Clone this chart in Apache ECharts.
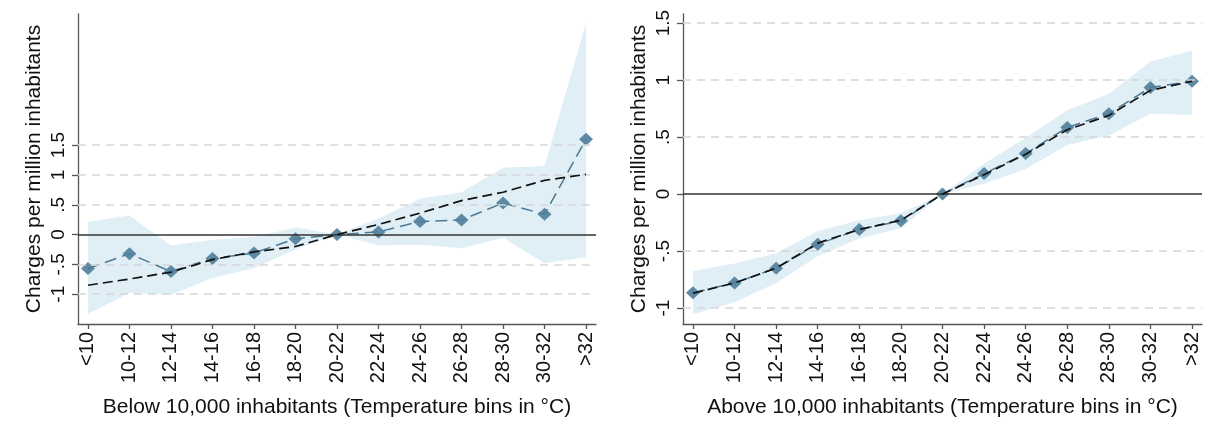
<!DOCTYPE html>
<html>
<head>
<meta charset="utf-8">
<script src="https://cdn.jsdelivr.net/npm/echarts@6/dist/echarts.min.js"></script>
<style>
  html, body { margin: 0; padding: 0; background: #fff; }
  #chart { width: 1208px; height: 432px; }
</style>
</head>
<body>
<div id="chart"></div>
<script>
// temperature bins (x axis)
const categories = ['<10', '10-12', '12-14', '14-16', '16-18', '18-20', '20-22', '22-24', '24-26', '26-28', '28-30', '30-32', '>32']
const yTicks = [-1, -0.5, 0, 0.5, 1, 1.5]

// below 10,000 inhabitants
const smallEst = [-0.57, -0.32, -0.62, -0.40, -0.31, -0.07, 0, 0.045, 0.22, 0.245, 0.53, 0.34, 1.60]
const smallFit = [-0.85, -0.745, -0.63, -0.42, -0.29, -0.20, 0, 0.17, 0.36, 0.57, 0.71, 0.91, 1.01]
const smallLo = [-1.33, -0.98, -1.01, -0.73, -0.56, -0.25, 0, -0.18, -0.17, -0.23, -0.055, -0.48, -0.38]
const smallHi = [0.21, 0.32, -0.185, -0.085, -0.04, 0.12, 0, 0.27, 0.60, 0.71, 1.12, 1.15, 3.55]

// above 10,000 inhabitants
const largeEst = [-0.865, -0.78, -0.65, -0.44, -0.31, -0.235, 0, 0.18, 0.355, 0.585, 0.705, 0.935, 0.99]
const largeFit = [-0.87, -0.78, -0.65, -0.43, -0.31, -0.23, 0, 0.17, 0.35, 0.565, 0.69, 0.91, 0.99]
const largeLo = [-1.055, -0.95, -0.78, -0.545, -0.39, -0.30, 0, 0.09, 0.22, 0.43, 0.515, 0.705, 0.695]
const largeHi = [-0.675, -0.61, -0.52, -0.325, -0.23, -0.165, 0, 0.265, 0.495, 0.735, 0.88, 1.16, 1.26]

const FONT = 'Liberation Sans'
const xIdx = categories.map((c, i) => i)
const pairs = arr => arr.map((v, i) => [i, v])
const fmtY = v => String(v).replace(/^(-?)0\./, '$1.')

function xAxisFor (gridIndex, name) {
  return {
    type: 'value', gridIndex, min: -0.24, max: 12.24,
    name, nameLocation: 'middle', nameGap: 73,
    nameTextStyle: { fontFamily: FONT, fontSize: 21, color: '#111' },
    axisLine: { show: true, onZero: false, lineStyle: { color: '#555', width: 1.3 } },
    axisTick: { show: true, length: 5, customValues: xIdx, lineStyle: { color: '#555', width: 1.3 } },
    axisLabel: {
      customValues: xIdx, rotate: 90, margin: 8,
      fontFamily: FONT, fontSize: 20, color: '#111',
      formatter: v => categories[v]
    },
    splitLine: { show: false }
  }
}

function yAxisFor (gridIndex, min, max) {
  return {
    type: 'value', gridIndex, min, max,
    name: 'Charges per million inhabitants', nameLocation: 'middle', nameGap: 33,
    nameTextStyle: { fontFamily: FONT, fontSize: 21, color: '#111' },
    axisLine: { show: true, onZero: false, lineStyle: { color: '#555', width: 1.3 } },
    axisTick: { show: true, length: 6, customValues: yTicks, lineStyle: { color: '#555', width: 1.3 } },
    axisLabel: {
      customValues: yTicks, rotate: 90, margin: 10,
      fontFamily: FONT, fontSize: 19, color: '#111',
      formatter: fmtY
    },
    splitLine: { show: false }
  }
}

// confidence band as one polygon built from lo/hi through the axis scales
function bandSeries (k, lo, hi) {
  return {
    type: 'custom', xAxisIndex: k, yAxisIndex: k, z: 2, silent: true,
    data: lo.map((l, i) => [i, l, hi[i]]),
    encode: { x: 0, y: [1, 2] },
    renderItem (params, api) {
      if (params.dataIndex !== 0) return
      const pts = []
      hi.forEach((h, i) => pts.push(api.coord([i, h])))
      for (let i = lo.length - 1; i >= 0; i--) pts.push(api.coord([i, lo[i]]))
      return { type: 'polygon', shape: { points: pts }, style: { fill: '#e0eef6' } }
    }
  }
}

function panelSeries (k, est, fit, lo, hi) {
  const grid = yTicks.filter(v => v !== 0).map(v => ({ yAxis: v }))
  return [
    {
      type: 'line', xAxisIndex: k, yAxisIndex: k, z: 1, data: [],
      markLine: {
        silent: true, symbol: 'none', label: { show: false },
        lineStyle: { color: '#d6d6d6', type: [8, 6], width: 1.5 },
        data: grid
      }
    },
    bandSeries(k, lo, hi),
    {
      type: 'line', xAxisIndex: k, yAxisIndex: k, z: 3, data: [],
      markLine: {
        silent: true, symbol: 'none', label: { show: false },
        lineStyle: { color: '#333', type: 'solid', width: 1.5 },
        data: [{ yAxis: 0 }]
      }
    },
    {
      type: 'line', xAxisIndex: k, yAxisIndex: k, z: 4,
      data: pairs(est), symbol: 'diamond', symbolSize: [14, 13],
      itemStyle: { color: '#4f7d9a', opacity: 0.9 },
      lineStyle: { color: '#4d7894', width: 1.5, type: [12, 6] }
    },
    {
      type: 'line', xAxisIndex: k, yAxisIndex: k, z: 5,
      data: pairs(fit), symbol: 'none',
      lineStyle: { color: '#111', width: 1.7, type: [10, 5] }
    }
  ]
}

const chart = echarts.init(document.getElementById('chart'))
chart.setOption({
  animation: false,
  grid: [
    { left: 78, right: 612, top: 14, bottom: 108 },
    { left: 683, right: 6, top: 14, bottom: 108 }
  ],
  xAxis: [
    xAxisFor(0, 'Below 10,000 inhabitants (Temperature bins in °C)'),
    xAxisFor(1, 'Above 10,000 inhabitants (Temperature bins in °C)')
  ],
  yAxis: [
    yAxisFor(0, -1.5, 3.7),
    yAxisFor(1, -1.14, 1.58)
  ],
  series: [
    ...panelSeries(0, smallEst, smallFit, smallLo, smallHi),
    ...panelSeries(1, largeEst, largeFit, largeLo, largeHi)
  ]
})
</script>
</body>
</html>
